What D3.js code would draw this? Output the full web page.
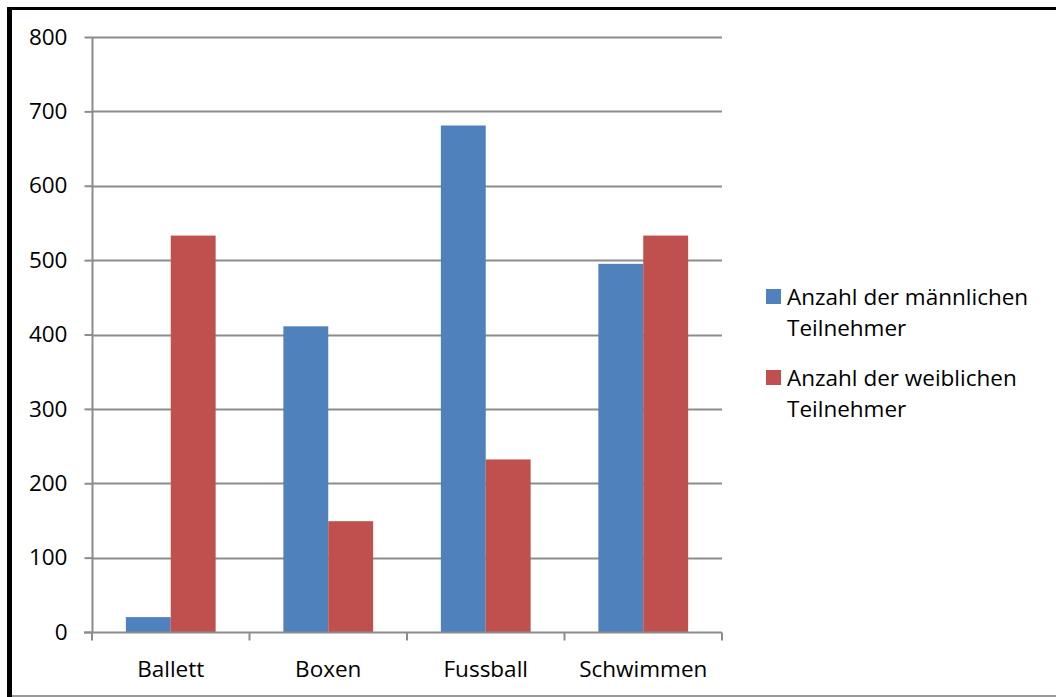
<!DOCTYPE html>
<html><head><meta charset="utf-8">
<script src="https://cdn.jsdelivr.net/npm/d3@7"></script>
<style>
html,body{margin:0;padding:0;background:#fff;}
svg{display:block;}
text{font-family:"Open Sans",sans-serif;fill:#000;}
</style></head>
<body>
<svg id="chart" width="1056" height="697"></svg>
<script>
const categories = ["Ballett", "Boxen", "Fussball", "Schwimmen"];
const seriesNames = ["Anzahl der männlichen Teilnehmer", "Anzahl der weiblichen Teilnehmer"];
const maleValues = [20, 411, 681, 495];
const femaleValues = [533, 149, 232, 533];
const yTicks = [0, 100, 200, 300, 400, 500, 600, 700, 800];
const colors = ["#4F81BD", "#C0504D"];

(function(){
const svg = d3.select("#chart");
const pLeft = 92, pRight = 722, pTop = 37, pBottom = 632;
const FS = "22.5px";

// frame
svg.append("rect").attr("x",0).attr("y",0).attr("width",1056).attr("height",697).attr("fill","#fff");
svg.append("line").attr("x1",7).attr("x2",1056).attr("y1",8.5).attr("y2",8.5).attr("stroke","#000").attr("stroke-width",3);
svg.append("line").attr("x1",9.5).attr("x2",9.5).attr("y1",7).attr("y2",697).attr("stroke","#000").attr("stroke-width",5);
svg.append("line").attr("x1",12).attr("x2",1056).attr("y1",696).attr("y2",696).attr("stroke","#999").attr("stroke-width",2);

const y = d3.scaleLinear().domain([0, 800]).range([pBottom, pTop]);
const x0 = d3.scaleBand().domain(categories).range([pLeft, pRight]).paddingInner(0.43).paddingOuter(0.215);
const x1 = d3.scaleBand().domain([0,1]).range([0, x0.bandwidth()]);
const xb = d3.scaleBand().domain(categories).range([pLeft, pRight]);

// gridlines
svg.append("g").selectAll("line").data(yTicks.filter(d=>d>0)).join("line")
  .attr("x1", pLeft).attr("x2", pRight)
  .attr("y1", d=>Math.round(y(d))+0.5).attr("y2", d=>Math.round(y(d))+0.5)
  .attr("stroke","#8c8c8c").attr("stroke-width",2);

// bars
const data = categories.map((c,i)=>({c, vals:[maleValues[i], femaleValues[i]]}));
const g = svg.append("g");
data.forEach(d=>{
  d.vals.forEach((v,j)=>{
    g.append("rect")
      .attr("x", x0(d.c)+x1(j)).attr("width", x1.bandwidth())
      .attr("y", y(v)).attr("height", pBottom - y(v))
      .attr("fill", colors[j]);
  });
});

// y axis
const yAxis = d3.axisLeft(y).tickValues(yTicks).tickSize(8).tickPadding(17).tickFormat(d3.format("d"));
const ya = svg.append("g").attr("transform",`translate(${pLeft+0.5},0)`).call(yAxis)
  .attr("font-family","'Open Sans', sans-serif").attr("font-size",FS);
ya.select(".domain").attr("stroke","#8c8c8c").attr("stroke-width",2).attr("d",`M0,${pTop}V${pBottom+1}`);
ya.selectAll(".tick line").attr("stroke","#8c8c8c").attr("stroke-width",2);
ya.selectAll(".tick text").style("font-size",FS).attr("fill","#000");

// x axis
const xa = svg.append("g").attr("transform",`translate(0,${pBottom+0.5})`);
xa.append("line").attr("x1",pLeft-8).attr("x2",pRight).attr("y1",0).attr("y2",0).attr("stroke","#8c8c8c").attr("stroke-width",2);
const bounds = categories.map(c=>xb(c)).concat([pRight]);
xa.selectAll("line.tk").data(bounds).join("line").attr("class","tk")
  .attr("x1",d=>d).attr("x2",d=>d).attr("y1",0).attr("y2",8).attr("stroke","#8c8c8c").attr("stroke-width",2);
xa.selectAll("text").data(categories).join("text")
  .attr("x", d=>xb(d)+xb.bandwidth()/2).attr("y", 44)
  .attr("text-anchor","middle").style("font-size",FS).text(d=>d);

// legend
const legendY = [289, 370];
const lg = svg.append("g");
seriesNames.forEach((name,i)=>{
  lg.append("rect").attr("x",766).attr("y",legendY[i]).attr("width",15).attr("height",15).attr("fill",colors[i]);
  const words = name.split(" ");
  const line1 = words.slice(0,3).join(" "), line2 = words.slice(3).join(" ");
  const t = lg.append("text").attr("x",787).attr("y",legendY[i]+16).style("font-size",FS);
  t.append("tspan").attr("x",787).text(line1);
  t.append("tspan").attr("x",787).attr("dy",31).text(line2);
});
})();
</script>
</body></html>
